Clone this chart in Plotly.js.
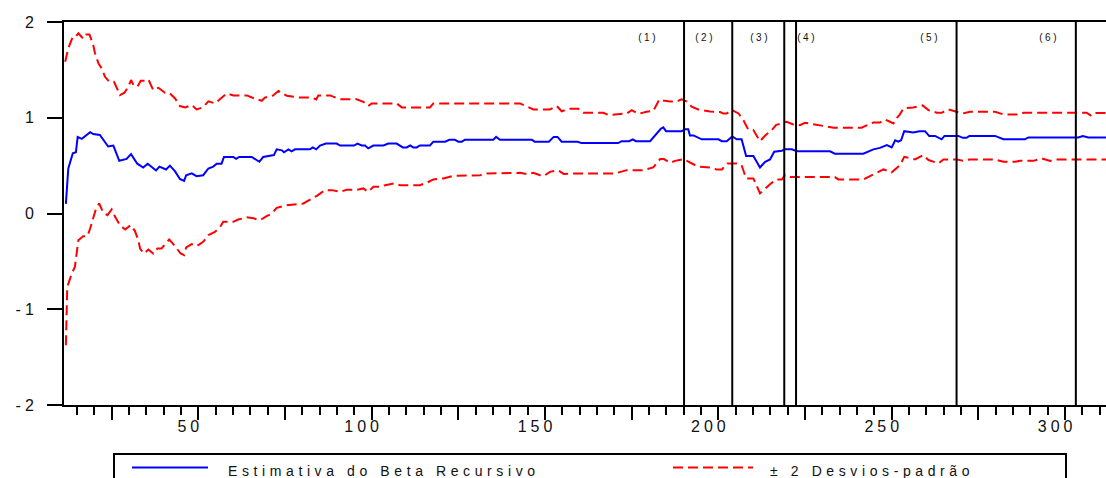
<!DOCTYPE html>
<html>
<head>
<meta charset="utf-8">
<script src="https://cdn.plot.ly/plotly-3.0.1.min.js"></script>
<style>
  html, body { margin: 0; padding: 0; background: #fff; }
  #chart { width: 1106px; height: 478px; }
  .xtick text, .ytick text { letter-spacing: 4px; }
  .annotation text { letter-spacing: 2.5px; }
  .annotation[data-index="0"] text, .annotation[data-index="1"] text { letter-spacing: 4.6px; }
</style>
</head>
<body>
<div id="chart"></div>
<script>
// ---- Data ----
const betaX = [
  11.8, 12.5, 13.8, 14.7, 15.2, 16.4, 18.8, 19.7, 21.6, 24.0,
  25.5, 27.2, 29.3, 30.6, 32.4, 34.1, 35.4, 37.8, 38.8, 40.7,
  41.8, 43.3, 44.7, 45.9, 46.5, 48.1, 49.5, 51.4, 52.9, 54.3,
  55.3, 56.7, 57.4, 60.1, 60.9, 61.8, 65.4, 67.6, 68.7, 70.7,
  71.8, 72.6, 74.1, 74.7, 76.0, 76.9, 77.9, 82.2, 83.0, 84.0,
  85.1, 86.8, 89.9, 90.9, 94.9, 95.9, 97.1, 98.1, 99.0, 100.5,
  103.4, 104.8, 107.2, 109.0, 110.1, 111.1, 112.0, 113.0, 113.9, 116.8,
  117.8, 121.2, 122.4, 124.0, 125.0, 126.0, 126.9, 135.1, 135.9, 137.0,
  146.2, 147.0, 151.1, 152.5, 153.6, 154.8, 159.4, 160.5, 171.1, 172.1,
  174.3, 175.3, 176.2, 180.3, 182.2, 183.4, 184.1, 184.9, 189.4, 190.4,
  191.3, 191.8, 192.8, 195.2, 200.0, 201.0, 202.4, 204.0, 205.3, 206.7,
  208.0, 210.1, 212.0, 213.5, 214.9, 216.1, 218.3, 219.2, 221.2, 222.6,
  232.2, 233.6, 241.8, 243.2, 244.7, 246.6, 248.6, 250.0, 251.0, 251.9,
  252.7, 253.6, 255.3, 256.2, 258.0, 259.6, 260.8, 262.5, 264.4, 265.2,
  269.2, 270.5, 271.6, 272.4, 279.8, 282.2, 288.4, 289.4, 303.8, 305.1,
  306.7, 311.8
];
const betaY = [
  0.10, 0.47, 0.63, 0.64, 0.80, 0.78, 0.85, 0.83, 0.82, 0.70,
  0.71, 0.55, 0.57, 0.62, 0.52, 0.48, 0.52, 0.45, 0.49, 0.46,
  0.50, 0.44, 0.36, 0.34, 0.40, 0.42, 0.39, 0.40, 0.47, 0.49,
  0.52, 0.52, 0.59, 0.59, 0.57, 0.59, 0.59, 0.54, 0.59, 0.60,
  0.61, 0.67, 0.66, 0.64, 0.67, 0.65, 0.67, 0.67, 0.69, 0.67,
  0.71, 0.73, 0.73, 0.71, 0.71, 0.73, 0.71, 0.71, 0.68, 0.71,
  0.71, 0.73, 0.73, 0.69, 0.69, 0.71, 0.69, 0.69, 0.71, 0.71,
  0.75, 0.75, 0.77, 0.77, 0.75, 0.75, 0.77, 0.77, 0.80, 0.77,
  0.77, 0.75, 0.75, 0.80, 0.80, 0.75, 0.75, 0.735, 0.735, 0.755,
  0.755, 0.775, 0.755, 0.755, 0.83, 0.885, 0.90, 0.86, 0.86, 0.88,
  0.88, 0.815, 0.815, 0.775, 0.775, 0.755, 0.755, 0.805, 0.775, 0.775,
  0.60, 0.60, 0.48, 0.54, 0.565, 0.645, 0.655, 0.67, 0.67, 0.65,
  0.65, 0.625, 0.625, 0.65, 0.67, 0.685, 0.715, 0.69, 0.765, 0.75,
  0.765, 0.86, 0.845, 0.845, 0.86, 0.86, 0.81, 0.81, 0.775, 0.81,
  0.81, 0.79, 0.79, 0.81, 0.81, 0.775, 0.775, 0.795, 0.795, 0.81,
  0.795, 0.795
];
const upperX = [
  11.6, 12.5, 13.8, 14.7, 15.4, 16.7, 17.3, 18.6, 19.7, 20.2,
  21.2, 22.1, 23.1, 24.3, 25.7, 26.5, 27.4, 28.7, 29.8, 30.6,
  31.3, 32.4, 33.4, 34.6, 35.6, 37.0, 38.5, 40.4, 41.6, 43.3,
  44.7, 46.2, 48.1, 49.5, 51.3, 52.9, 54.8, 56.3, 58.2, 60.1,
  64.0, 66.4, 68.3, 69.2, 71.6, 73.1, 74.1, 75.5, 78.8, 82.7,
  84.0, 84.6, 88.0, 89.4, 90.9, 95.7, 97.6, 99.0, 100.0, 107.2,
  108.7, 116.8, 117.8, 142.8, 145.2, 146.6, 151.4, 153.4, 154.8, 157.2,
  159.6, 161.0, 166.8, 168.3, 173.6, 175.0, 176.9, 179.3, 181.2, 183.0,
  184.1, 186.1, 188.0, 189.4, 190.9, 192.3, 194.2, 197.6, 200.5, 201.4,
  202.4, 203.9, 205.8, 207.2, 208.6, 210.1, 212.0, 213.5, 215.4, 216.6,
  218.7, 219.7, 221.6, 223.5, 225.0, 233.2, 241.3, 243.3, 244.7, 246.6,
  248.1, 249.5, 250.5, 251.5, 252.2, 253.4, 256.2, 258.9, 260.6, 263.0,
  264.4, 266.3, 268.7, 270.5, 272.6, 279.8, 282.2, 287.0, 288.0, 306.2,
  307.4, 308.3, 311.8
];
const upperY = [
  1.585, 1.725, 1.847, 1.85, 1.882, 1.83, 1.87, 1.87, 1.76, 1.673,
  1.568, 1.516, 1.428, 1.376, 1.376, 1.307, 1.237, 1.261, 1.324, 1.394,
  1.341, 1.324, 1.386, 1.386, 1.40, 1.289, 1.313, 1.261, 1.261, 1.202,
  1.122, 1.108, 1.132, 1.087, 1.108, 1.171, 1.15, 1.195, 1.254, 1.233,
  1.233, 1.198, 1.177, 1.21, 1.233, 1.279, 1.26, 1.23, 1.212, 1.212,
  1.192, 1.233, 1.233, 1.212, 1.192, 1.192, 1.167, 1.122, 1.15, 1.15,
  1.108, 1.108, 1.15, 1.15, 1.108, 1.087, 1.087, 1.122, 1.068, 1.094,
  1.094, 1.052, 1.052, 1.028, 1.045, 1.08, 1.04, 1.063, 1.07, 1.192,
  1.18, 1.17, 1.17, 1.192, 1.17, 1.115, 1.087, 1.066, 1.06, 1.045,
  1.045, 1.08, 1.045, 0.976, 0.878, 0.871, 0.756, 0.815, 0.871, 0.923,
  0.948, 0.958, 0.93, 0.923, 0.948, 0.896, 0.896, 0.923, 0.95, 0.95,
  0.982, 0.958, 0.94, 1.0, 1.027, 1.098, 1.108, 1.129, 1.08, 1.052,
  1.052, 1.087, 1.063, 1.045, 1.063, 1.063, 1.035, 1.035, 1.052, 1.052,
  1.024, 1.05, 1.05
];
const lowerX = [
  11.8, 12.0, 12.2, 13.5, 14.4, 14.9, 15.4, 16.8, 18.0, 18.8,
  19.5, 20.5, 21.4, 22.6, 23.8, 25.0, 26.0, 27.4, 28.9, 30.5,
  31.7, 32.7, 33.2, 34.3, 35.6, 37.0, 38.2, 39.4, 40.4, 41.6,
  42.8, 43.9, 44.9, 45.9, 46.5, 48.1, 49.5, 51.4, 52.9, 54.8,
  56.3, 57.2, 60.1, 61.5, 64.0, 65.9, 67.8, 69.7, 71.2, 72.6,
  74.1, 75.5, 80.3, 82.2, 84.2, 86.5, 88.5, 90.9, 92.8, 95.7,
  97.6, 99.0, 100.5, 102.4, 103.9, 106.3, 108.2, 113.9, 115.9, 117.8,
  120.7, 123.6, 131.3, 133.2, 142.8, 145.2, 146.6, 148.6, 149.6, 151.4,
  153.8, 155.4, 158.2, 170.2, 173.6, 178.4, 181.2, 183.2, 184.3, 186.1,
  187.5, 189.9, 191.8, 194.2, 197.6, 199.5, 201.0, 202.6, 205.3, 206.7,
  208.0, 210.1, 212.0, 213.5, 215.4, 216.6, 218.3, 219.2, 220.7, 233.6,
  234.6, 241.8, 244.7, 247.6, 250.0, 252.4, 253.6, 255.3, 256.7, 259.1,
  260.6, 263.5, 264.9, 268.7, 270.5, 272.6, 279.8, 282.2, 285.6, 287.0,
  290.9, 293.3, 295.7, 297.1, 311.8
];
const lowerY = [
  -1.376, -1.01, -0.767, -0.627, -0.558, -0.418, -0.279, -0.237, -0.237, -0.157,
  -0.07, 0.052, 0.105, 0.007, -0.017, 0.042, -0.035, -0.122, -0.167, -0.122,
  -0.181, -0.279, -0.366, -0.418, -0.376, -0.418, -0.366, -0.366, -0.32, -0.272,
  -0.32, -0.366, -0.418, -0.435, -0.355, -0.32, -0.341, -0.296, -0.226, -0.192,
  -0.14, -0.087, -0.087, -0.063, -0.04, -0.05, -0.07, -0.028, 0.0, 0.059,
  0.07, 0.087, 0.105, 0.14, 0.185, 0.244, 0.244, 0.226, 0.247, 0.247,
  0.262, 0.226, 0.279, 0.279, 0.296, 0.314, 0.296, 0.296, 0.321, 0.356,
  0.366, 0.394, 0.40, 0.418, 0.425, 0.41, 0.425, 0.40, 0.39, 0.435,
  0.45, 0.413, 0.418, 0.418, 0.453, 0.453, 0.481, 0.568, 0.568, 0.53,
  0.55, 0.568, 0.53, 0.488, 0.481, 0.46, 0.46, 0.523, 0.523, 0.505,
  0.366, 0.366, 0.211, 0.263, 0.32, 0.355, 0.355, 0.40, 0.38, 0.38,
  0.356, 0.356, 0.41, 0.46, 0.43, 0.505, 0.592, 0.575, 0.565, 0.61,
  0.558, 0.523, 0.565, 0.565, 0.55, 0.565, 0.565, 0.54, 0.54, 0.55,
  0.55, 0.575, 0.55, 0.565, 0.565
];
// structural break markers and their labels
const breakX = [190.1, 204.0, 219.0, 222.4, 268.7, 303.1];
const breakLabelX = [179.6, 196.2, 211.9, 225.7, 260.9, 295.5];
const breakLabels = ['(1)', '(2)', '(3)', '(4)', '(5)', '(6)'];
// axis ticks
const xTickVals = [25, 50, 75, 100, 125, 150, 175, 200, 225, 250, 275, 300];
const xTickText = ['', '50', '', '100', '', '150', '', '200', '', '250', '', '300'];
const yTickVals = [-2, -1, 0, 1, 2];
const yTickText = ['-2', '-1', '0', '1', '2'];
const seriesNames = ['Estimativa do Beta Recursivo', '± 2 Desvios-padrão'];

// ---- Chart ----
const FONT = 'Liberation Sans, Arial, sans-serif';
const dashStyle = '10px,5px';

const traces = [
  { x: upperX, y: upperY, type: 'scatter', mode: 'lines', name: seriesNames[1],
    line: { color: '#ff0000', width: 2, dash: dashStyle }, showlegend: false, hoverinfo: 'skip' },
  { x: lowerX, y: lowerY, type: 'scatter', mode: 'lines', name: seriesNames[1],
    line: { color: '#ff0000', width: 2, dash: dashStyle }, showlegend: false, hoverinfo: 'skip' },
  { x: betaX, y: betaY, type: 'scatter', mode: 'lines', name: seriesNames[0],
    line: { color: '#0000ff', width: 2 }, showlegend: false, hoverinfo: 'skip' }
];

// plot area geometry (px) for the hand-drawn legend
const L = 64, W = 1042, T = 22, H = 383;
const px = v => (v - L) / W;
const py = v => (T + H - v) / H;

const shapes = breakX.map(b => ({
  type: 'line', xref: 'x', yref: 'paper', x0: b, x1: b, y0: 0, y1: 1,
  line: { color: '#000', width: 2 }
}));
// legend box and samples
shapes.push({ type: 'rect', xref: 'paper', yref: 'paper',
  x0: px(114), x1: px(1066), y0: py(454), y1: py(520),
  line: { color: '#000', width: 2 }, fillcolor: 'rgba(0,0,0,0)' });
shapes.push({ type: 'line', xref: 'paper', yref: 'paper',
  x0: px(132), x1: px(208), y0: py(467.5), y1: py(467.5),
  line: { color: '#0000ff', width: 2 } });
shapes.push({ type: 'line', xref: 'paper', yref: 'paper',
  x0: px(673), x1: px(753), y0: py(467.5), y1: py(467.5),
  line: { color: '#ff0000', width: 2, dash: dashStyle } });

const annotations = [
  { xref: 'paper', yref: 'paper', x: px(226), y: py(471), xanchor: 'left', yanchor: 'middle',
    align: 'left', text: seriesNames[0], showarrow: false, font: { family: FONT, size: 14, color: '#111' } },
  { xref: 'paper', yref: 'paper', x: px(768), y: py(471), xanchor: 'left', yanchor: 'middle',
    align: 'left', text: seriesNames[1], showarrow: false, font: { family: FONT, size: 14, color: '#111' } }
];
breakLabels.forEach((t, i) => annotations.push({
  xref: 'x', yref: 'y', x: breakLabelX[i], y: 1.843, text: t, showarrow: false,
  xanchor: 'center', yanchor: 'middle', font: { family: FONT, size: 10, color: '#111' }
}));

const layout = {
  width: 1106, height: 478,
  margin: { l: L, r: 0, t: T, b: 478 - T - H, pad: 0 },
  paper_bgcolor: '#fff', plot_bgcolor: '#fff',
  font: { family: FONT, size: 16, color: '#111' },
  showlegend: false,
  xaxis: {
    range: [11.26, 311.8], showgrid: false, zeroline: false,
    showline: true, linecolor: '#000', linewidth: 2, mirror: true,
    tickmode: 'array', tickvals: xTickVals, ticktext: xTickText,
    ticks: 'outside', ticklen: 13, tickwidth: 2, tickcolor: '#000',
    tickfont: { family: FONT, size: 16, color: '#111' },
    ticklabelshift: -8,
    ticklabelstandoff: -7,
    minor: { dtick: 5, tick0: 0, ticks: 'outside', ticklen: 8, tickwidth: 2, tickcolor: '#000', showgrid: false },
    automargin: false
  },
  yaxis: {
    range: [-2, 2], showgrid: false, zeroline: false,
    showline: true, linecolor: '#000', linewidth: 2,
    tickmode: 'array', tickvals: yTickVals, ticktext: yTickText,
    ticks: 'outside', ticklen: 15, tickwidth: 2, tickcolor: '#000',
    tickfont: { family: FONT, size: 16, color: '#111' },
    ticklabelstandoff: 6,
    automargin: false
  },
  shapes: shapes,
  annotations: annotations
};

Plotly.newPlot('chart', traces, layout, { displayModeBar: false, staticPlot: true });
</script>
</body>
</html>
